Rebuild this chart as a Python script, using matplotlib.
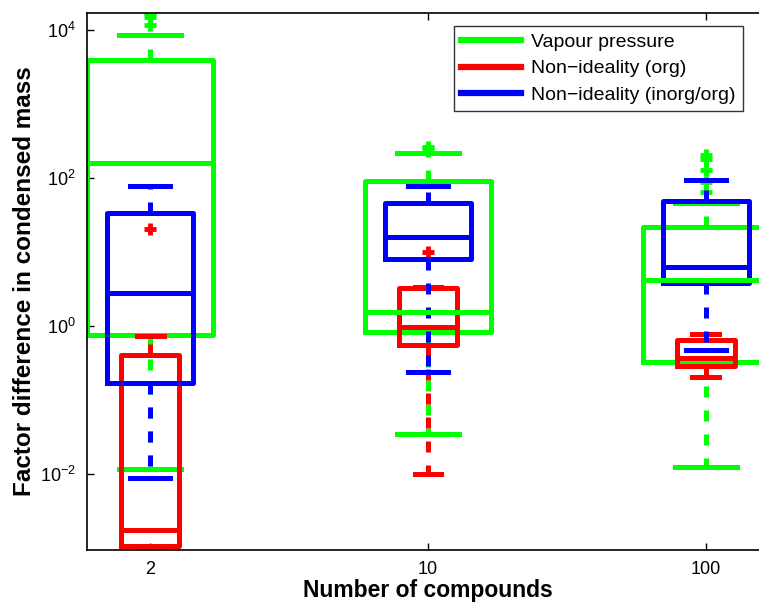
import numpy as np
import matplotlib
matplotlib.use("Agg")
import matplotlib.pyplot as plt
from matplotlib.lines import Line2D

plt.rcParams['font.family'] = ['Liberation Sans', 'DejaVu Sans']

# number of compounds (x categories)
compounds = ['2', '10', '100']
series = ['Vapour pressure', 'Non\u2212ideality (org)', 'Non\u2212ideality (inorg/org)']
colors = ['#00ff00', '#ff0000', '#0000ff']

# box statistics as log10 values: whislo, q1, med, q3, whishi
vap_stats = [[-1.93, -0.12, 2.20, 3.59, 3.93],
             [-1.46, -0.08, 0.19, 1.96, 2.34],
             [-1.91, -0.49, 0.62, 1.34, 1.66]]
vap_fliers = [[4.07, 4.18, 4.23], [2.40, 2.42], [1.81, 1.95, 2.11, 2.25, 2.31]]

org_stats = [[-3.00, -2.97, -2.76, -0.39, -0.14],
             [-2.00, -0.26, -0.01, 0.51, 0.52],
             [-0.69, -0.54, -0.43, -0.19, -0.11]]
org_fliers = [[1.31], [1.00], []]

inorg_stats = [[-2.05, -0.77, 0.45, 1.53, 1.89],
               [-0.62, 0.91, 1.20, 1.66, 1.89],
               [-0.32, 0.58, 0.80, 1.69, 1.97]]
inorg_fliers = [[], [], []]

box_widths = [0.454, 0.21, 0.31]
cap_widths = [0.224, 0.097, 0.145]

fig = plt.figure(figsize=(7.59, 6.05), dpi=100)
ax = fig.add_axes([87/759, 55/605, 682/759, 537/605])

pos = np.arange(1, len(compounds) + 1)
lw = 3.6
all_stats = [(vap_stats, vap_fliers), (org_stats, org_fliers), (inorg_stats, inorg_fliers)]
for k, (stats, fl) in enumerate(all_stats):
    c = colors[k]
    bx = []
    for s, f in zip(stats, fl):
        lo, q1, med, q3, hi = [10.0 ** v for v in s]
        bx.append(dict(whislo=lo, q1=q1, med=med, q3=q3, whishi=hi,
                       fliers=np.array([10.0 ** v for v in f])))
    ax.bxp(bx, positions=pos, widths=box_widths[k], capwidths=cap_widths[k],
           manage_ticks=False,
           boxprops=dict(color=c, lw=lw, solid_joinstyle='round'),
           medianprops=dict(color=c, lw=lw),
           whiskerprops=dict(color=c, lw=lw, linestyle=(0, (2.2, 2.6))),
           capprops=dict(color=c, lw=lw),
           flierprops=dict(marker='+', markeredgecolor=c, markersize=8,
                           markeredgewidth=3.5, linestyle='none'))

ax.set_yscale('log')
ax.set_ylim(10 ** -3.03, 10 ** 4.23)
ax.set_xlim(1 - 0.227, 3 + 0.227)
ax.set_yticks([1e-2, 1e0, 1e2, 1e4])
ax.yaxis.set_minor_locator(matplotlib.ticker.NullLocator())
ax.set_xticks(pos)
ax.set_xticklabels(compounds)
ax.tick_params(direction='in', length=5, width=1, labelsize=13, top=True, right=True, pad=8)
for sp in ax.spines.values():
    sp.set_linewidth(1.2)

ax.set_xlabel('Number of compounds', fontsize=16.5, fontweight='bold', labelpad=1)
ax.set_ylabel('Factor difference in condensed mass', fontsize=17.5, fontweight='bold', labelpad=3)

handles = [Line2D([0], [0], color=c, lw=4.5) for c in colors]
leg = ax.legend(handles, series, loc='upper right', bbox_to_anchor=(656/682, 1 - 13/537),
                fontsize=14, frameon=True, fancybox=False, edgecolor='black',
                handlelength=3.1, borderpad=0.38, labelspacing=0.45, handletextpad=0.5,
                borderaxespad=0)
leg.get_frame().set_linewidth(1.0)

fig.savefig('out.png', dpi=100)
